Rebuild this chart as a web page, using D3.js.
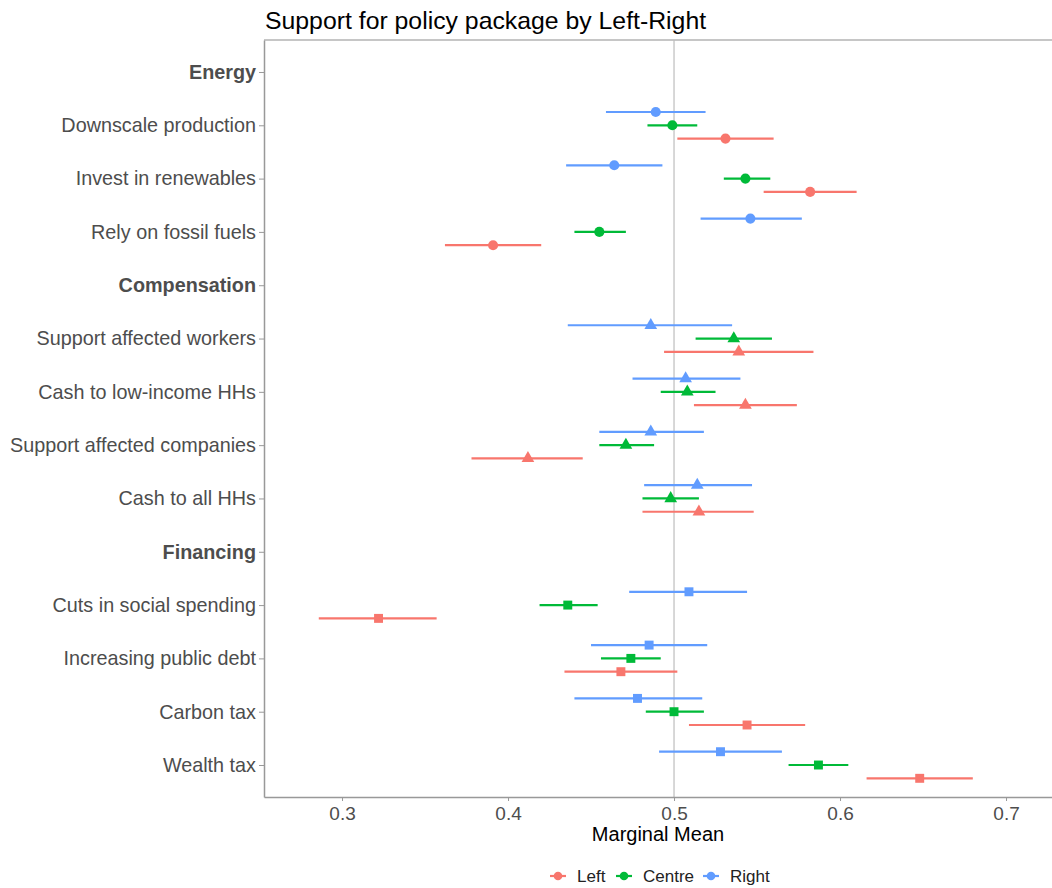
<!DOCTYPE html>
<html>
<head>
<meta charset="utf-8">
<script src="https://cdn.jsdelivr.net/npm/d3@7"></script>
<style>
  body { margin: 0; background: #fff; }
  svg text { font-family: "Liberation Sans", Arial, Helvetica, sans-serif; }
</style>
</head>
<body>
<div id="chart"></div>
<script>
// rows of the y axis, top to bottom
const categories = [
  "Energy", "Downscale production", "Invest in renewables", "Rely on fossil fuels",
  "Compensation", "Support affected workers", "Cash to low-income HHs", "Support affected companies", "Cash to all HHs",
  "Financing", "Cuts in social spending", "Increasing public debt", "Carbon tax", "Wealth tax"
];
const headers = ["Energy", "Compensation", "Financing"];

// attributes with estimates, and which section they belong to
const items = [
  "Downscale production", "Invest in renewables", "Rely on fossil fuels",
  "Support affected workers", "Cash to low-income HHs", "Support affected companies", "Cash to all HHs",
  "Cuts in social spending", "Increasing public debt", "Carbon tax", "Wealth tax"
];
const itemSection = ["Energy", "Energy", "Energy",
  "Compensation", "Compensation", "Compensation", "Compensation",
  "Financing", "Financing", "Financing", "Financing"];

const groups = ["Left", "Centre", "Right"];

const leftMean  = [0.531, 0.582, 0.391, 0.539, 0.543, 0.412, 0.515, 0.322, 0.468, 0.544, 0.648];
const leftLow   = [0.502, 0.554, 0.362, 0.494, 0.512, 0.378, 0.481, 0.286, 0.434, 0.509, 0.616];
const leftHigh  = [0.560, 0.610, 0.420, 0.584, 0.574, 0.445, 0.548, 0.357, 0.502, 0.579, 0.680];

const centreMean = [0.499, 0.543, 0.455, 0.536, 0.508, 0.471, 0.498, 0.436, 0.474, 0.500, 0.587];
const centreLow  = [0.484, 0.530, 0.440, 0.513, 0.492, 0.455, 0.481, 0.419, 0.456, 0.483, 0.569];
const centreHigh = [0.514, 0.558, 0.471, 0.559, 0.525, 0.488, 0.515, 0.454, 0.492, 0.518, 0.605];

const rightMean = [0.489, 0.464, 0.546, 0.486, 0.507, 0.486, 0.514, 0.509, 0.485, 0.478, 0.528];
const rightLow  = [0.459, 0.435, 0.516, 0.436, 0.475, 0.455, 0.482, 0.473, 0.450, 0.440, 0.491];
const rightHigh = [0.519, 0.493, 0.577, 0.535, 0.540, 0.518, 0.547, 0.544, 0.520, 0.517, 0.565];

const xTicks = [0.3, 0.4, 0.5, 0.6, 0.7];

const series = {
  Left:   { mean: leftMean,   low: leftLow,   high: leftHigh },
  Centre: { mean: centreMean, low: centreLow, high: centreHigh },
  Right:  { mean: rightMean,  low: rightLow,  high: rightHigh }
};

const rows = [];
groups.forEach(g => {
  items.forEach((it, i) => {
    rows.push({ group: g, item: it, section: itemSection[i],
      mean: series[g].mean[i], low: series[g].low[i], high: series[g].high[i] });
  });
});

const width = 1052, height = 888;
const panelLeft = 264, panelRight = 1052, panelTop = 40, panelBottom = 797;

const svg = d3.select("#chart").append("svg")
  .attr("width", width)
  .attr("height", height);

const x = d3.scaleLinear().domain([0.2530, 0.7277]).range([panelLeft, panelRight]);
const y = d3.scalePoint().domain(categories).range([panelTop, panelBottom]).padding(0.6);
const dodge = d3.scalePoint().domain(["Right", "Centre", "Left"]).range([-13.3, 13.3]);
const color = d3.scaleOrdinal().domain(groups).range(["#F8766D", "#00BA38", "#619CFF"]);
const shape = d3.scaleOrdinal().domain(headers)
  .range([d3.symbolCircle, d3.symbolTriangle, d3.symbolSquare]);
const shapeSize = { Energy: 80, Compensation: 70, Financing: 80 };

// title
svg.append("text")
  .attr("x", panelLeft + 1)
  .attr("y", 29)
  .attr("font-size", 24.8)
  .attr("fill", "#000")
  .text("Support for policy package by Left-Right");

// panel top border
svg.append("line")
  .attr("x1", panelLeft).attr("x2", panelRight)
  .attr("y1", panelTop).attr("y2", panelTop)
  .attr("stroke", "#b3b3b3").attr("stroke-width", 1.5);

// reference line at 0.5
svg.append("line")
  .attr("x1", x(0.5)).attr("x2", x(0.5))
  .attr("y1", panelTop).attr("y2", panelBottom)
  .attr("stroke", "#bdbdbd").attr("stroke-width", 1.2);

// x axis
const xAxis = svg.append("g")
  .attr("transform", "translate(0," + panelBottom + ")")
  .call(d3.axisBottom(x).tickValues(xTicks).tickFormat(d3.format(".1f"))
    .tickSize(4).tickSizeOuter(0).tickPadding(6));
xAxis.select(".domain").attr("stroke", "#999").attr("stroke-width", 1.5);
xAxis.selectAll(".tick line").attr("stroke", "#999");
xAxis.selectAll("text")
  .attr("font-size", 19)
  .attr("fill", "#4d4d4d")
  .attr("font-family", "Liberation Sans, Arial, sans-serif");

// y axis
const yAxis = svg.append("g")
  .attr("transform", "translate(" + panelLeft + ",0)")
  .call(d3.axisLeft(y).tickSize(5).tickSizeOuter(0).tickPadding(3));
yAxis.select(".domain").attr("stroke", "#999").attr("stroke-width", 1.5);
yAxis.selectAll(".tick line").attr("stroke", "#999");
yAxis.selectAll("text")
  .attr("font-size", 19.8)
  .attr("fill", "#4d4d4d")
  .attr("font-family", "Liberation Sans, Arial, sans-serif")
  .attr("font-weight", d => headers.includes(d) ? "bold" : "normal");

// x axis title
svg.append("text")
  .attr("x", (panelLeft + panelRight) / 2)
  .attr("y", 841)
  .attr("text-anchor", "middle")
  .attr("font-size", 20)
  .attr("fill", "#000")
  .text("Marginal Mean");

// error bars
svg.append("g").selectAll("line")
  .data(rows)
  .enter().append("line")
  .attr("x1", d => x(d.low))
  .attr("x2", d => x(d.high))
  .attr("y1", d => y(d.item) + dodge(d.group))
  .attr("y2", d => y(d.item) + dodge(d.group))
  .attr("stroke", d => color(d.group))
  .attr("stroke-width", 2.2);

// points
svg.append("g").selectAll("path")
  .data(rows)
  .enter().append("path")
  .attr("d", d => d3.symbol().type(shape(d.section)).size(shapeSize[d.section])())
  .attr("transform", d => "translate(" + x(d.mean) + "," + (y(d.item) + dodge(d.group)) + ")")
  .attr("fill", d => color(d.group));

// legend
const legendX = [558, 624, 711];
const legend = svg.append("g").selectAll("g")
  .data(groups)
  .enter().append("g")
  .attr("transform", (d, i) => "translate(" + legendX[i] + ",876)");
legend.append("line")
  .attr("x1", -8).attr("x2", 8)
  .attr("stroke", d => color(d)).attr("stroke-width", 2.2);
legend.append("circle")
  .attr("r", 4.3)
  .attr("fill", d => color(d));
legend.append("text")
  .attr("x", 19)
  .attr("y", 6)
  .attr("font-size", 17)
  .attr("fill", "#222")
  .text(d => d);
</script>
</body>
</html>
